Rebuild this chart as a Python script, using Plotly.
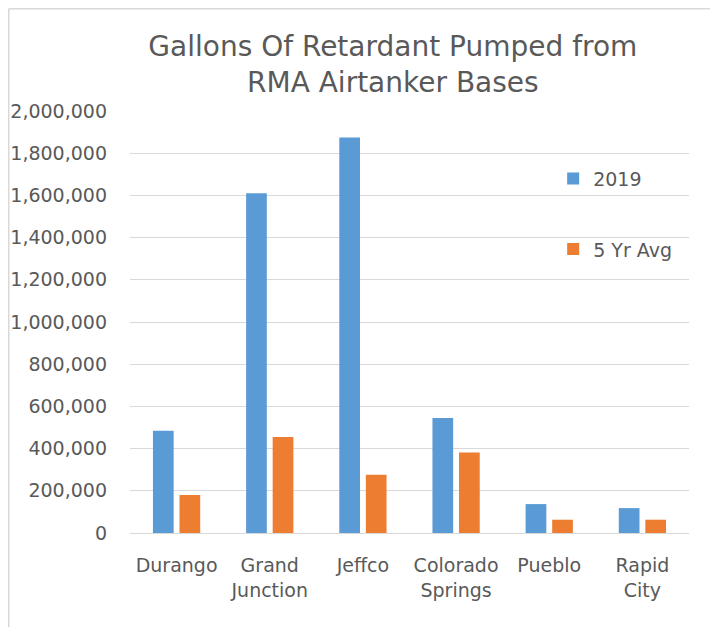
import plotly.graph_objects as go

# gallons pumped per airtanker base
bases = ['Durango', 'Grand<br>Junction', 'Jeffco', 'Colorado<br>Springs', 'Pueblo', 'Rapid<br>City']
gal_2019 = [485000, 1610000, 1875000, 545000, 137000, 118000]
gal_5yr_avg = [180000, 455000, 276000, 381000, 63000, 63000]

grey_txt = '#595959'
font_fam = 'DejaVu Sans'

fig = go.Figure()
fig.add_trace(go.Bar(x=bases, y=gal_2019, name='2019',
                     marker=dict(color='#5B9BD5', line=dict(width=0)),
                     legendgroup='a'))
fig.add_trace(go.Bar(x=bases, y=gal_5yr_avg, name='5 Yr Avg',
                     marker=dict(color='#ED7D31', line=dict(width=0)),
                     legendgroup='b'))

# page body adds ~8px offset, so margins are trimmed by that much
fig.update_layout(
    width=718, height=627,
    margin=dict(l=122, r=37, t=103, b=102),
    paper_bgcolor='white', plot_bgcolor='white',
    font=dict(family=font_fam, size=19, color=grey_txt),
    title=dict(text='Gallons Of Retardant Pumped from<br>RMA Airtanker Bases',
               x=0.536, xanchor='center', y=0.924, yanchor='middle',
               font=dict(family=font_fam, size=28, color=grey_txt)),
    barmode='group', bargap=0.43, bargroupgap=0.22,
    legend=dict(x=0.757, y=0.885, xanchor='left', yanchor='top',
                traceorder='grouped', tracegroupgap=43,
                bgcolor='rgba(0,0,0,0)', font=dict(size=19, color=grey_txt)),
    showlegend=True,
)
fig.update_yaxes(range=[0, 2000000], dtick=200000, tickformat=',d',
                 showgrid=True, gridcolor='#d9d9d9', gridwidth=1,
                 zeroline=True, zerolinecolor='#d9d9d9', zerolinewidth=1,
                 showline=False, ticks='', ticklabelstandoff=22, automargin=False)
fig.update_xaxes(showgrid=False, showline=False, ticks='', ticklabelstandoff=19,
                 automargin=False)

# outer chart border (top and left edges visible)
fig.add_shape(type='line', xref='paper', yref='paper',
              x0=-0.2169, x1=1.08, y0=1.2423, y1=1.2423,
              line=dict(color='#d9d9d9', width=1.5))
fig.add_shape(type='line', xref='paper', yref='paper',
              x0=-0.2169, x1=-0.2169, y0=-0.26, y1=1.2423,
              line=dict(color='#d9d9d9', width=1.5))

fig.write_html('out.html')
